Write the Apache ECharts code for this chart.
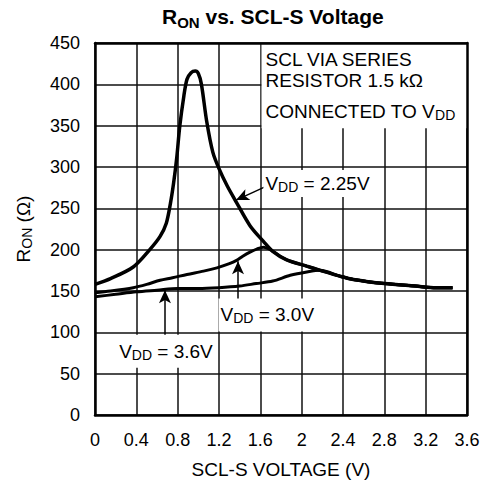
<!DOCTYPE html>
<html>
<head>
<meta charset="utf-8">
<script src="https://cdn.jsdelivr.net/npm/echarts@6/dist/echarts.min.js"></script>
<style>html,body{margin:0;padding:0;background:#fff}#c{width:487px;height:485px}</style>
</head>
<body>
<div id="c"></div>
<script>
// ---- data ----
const xTicks = ['0','0.4','0.8','1.2','1.6','2','2.4','2.8','3.2','3.6'];
const yTicks = ['0','50','100','150','200','250','300','350','400','450'];

const vdd225 = [[0,158],[0.15,165],[0.37,179],[0.53,200],[0.63,216],[0.69,232],[0.73,256],[0.76,280],[0.79,310],
  [0.82,349],[0.86,386],[0.89,406],[0.93,414],[0.97,416],[1.0,413],[1.03,400],[1.08,356],[1.14,318],[1.2,298],[1.28,277],
  [1.37,257],[1.5,229],[1.63,210],[1.72,198],[1.85,188],[2.05,180],[2.18,175],[2.37,168],[2.5,164],[2.8,159],
  [3.1,156],[3.3,154],[3.46,154]];
const vdd30 = [[0,148],[0.15,150],[0.37,154],[0.5,158],[0.63,163],[0.75,166],[0.89,170],[1.05,174],[1.18,178],
  [1.3,183],[1.37,187],[1.43,192],[1.5,197],[1.57,201],[1.63,203],[1.68,201],[1.72,198],[1.85,188],[2.05,180],
  [2.18,175],[2.37,168],[2.5,164],[2.8,159],[3.1,156],[3.3,154],[3.46,154]];
const vdd36 = [[0,143],[0.2,146],[0.4,149],[0.6,151],[0.8,153],[1.0,153],[1.2,154],[1.4,156],[1.56,159],
  [1.72,162],[1.89,169],[2.05,173],[2.18,175],[2.37,168],[2.5,164],[2.8,159],[3.1,156],[3.3,154],[3.46,154]];

// annotation anchors (data coordinates) and texts
const noteLines = ['{m|SCL VIA SERIES}', '{m|RESISTOR 1.5 kΩ}', '{m|CONNECTED TO V}{s|DD}'];
const noteAnchors = [[1.645,430],[1.645,404.6],[1.645,367.7]];
const noteBox = [[1.612,347],[3.6,450]];
const curveLabels = ['{m|V}{s|DD}{m| = 2.25V}', '{m|V}{s|DD}{m| = 3.0V}', '{m|V}{s|DD}{m| = 3.6V}'];
const curveLabelAnchors = [[1.625,280],[1.19,121],[0.2,77]];
const arrows = [[[1.645,276],[1.365,260]], [[1.384,137],[1.384,186]], [[0.677,93],[0.677,151]]];

const FONT = '"Liberation Sans", Arial, Helvetica, sans-serif';
const rich = {
  m: {fontSize: 19, fontFamily: FONT, color: '#000'},
  s: {fontSize: 14, fontFamily: FONT, color: '#000', padding: [7,0,0,0]}
};

const chart = echarts.init(document.getElementById('c'), null, {renderer: 'svg'});

function curve(name, data, w) {
  return {
    name, type: 'line', data, showSymbol: false, smooth: 0.3,
    lineStyle: {color: '#000', width: w}, itemStyle: {color: '#000'}, z: 5
  };
}

const pads = [[3,6,3,2],[6,3,6,2],[6,3,6,3]];
const annotSeries = {
  type: 'line', data: [], z: 3, silent: true,
  markArea: {
    silent: true,
    itemStyle: {color: '#fff'},
    data: [[{coord: noteBox[0]}, {coord: noteBox[1]}]]
  },
  markPoint: {
    silent: true,
    symbol: 'circle', symbolSize: 1,
    itemStyle: {color: 'rgba(0,0,0,0)'},
    data: noteLines.map((t, i) => ({
      coord: noteAnchors[i],
      label: {show: true, position: 'right', distance: 0, formatter: t, rich}
    })).concat(curveLabels.map((t, i) => ({
      coord: curveLabelAnchors[i],
      label: {show: true, position: 'right', distance: 0, formatter: t, rich,
              backgroundColor: '#fff', padding: pads[i]}
    })))
  },
  markLine: {
    silent: true,
    symbol: ['none', 'arrow'], symbolSize: [9, 13],
    label: {show: false},
    lineStyle: {color: '#000', width: 1.5, type: 'solid'},
    data: arrows.map(a => [{coord: a[0]}, {coord: a[1]}])
  }
};

chart.setOption({
  animation: false,
  backgroundColor: '#fff',
  title: {
    text: '{m|R}{s|ON}{m| vs. SCL-S Voltage}',
    left: 162, top: 3, padding: 0,
    textStyle: {
      rich: {
        m: {fontSize: 21, fontWeight: 'bold', fontFamily: FONT, color: '#000'},
        s: {fontSize: 15, fontWeight: 'bold', fontFamily: FONT, color: '#000', padding: [12,0,0,0]}
      }
    }
  },
  grid: {left: 95, right: 20, top: 43, bottom: 70, show: false},
  xAxis: [{
    type: 'value', min: 0, max: 3.6, interval: 0.4,
    name: 'SCL-S VOLTAGE (V)', nameLocation: 'middle', nameGap: 45,
    nameTextStyle: {fontSize: 19, fontFamily: FONT, color: '#000'},
    axisLine: {show: true, lineStyle: {color: '#000', width: 2.5}},
    axisTick: {show: false},
    axisLabel: {margin: 16, fontSize: 18, fontFamily: FONT, color: '#000',
                formatter: (v, i) => xTicks[i]},
    splitLine: {show: true, lineStyle: {color: '#111', width: 1.5}}
  }, {
    type: 'value', min: 0, max: 3.6, position: 'top', z: 10,
    axisLine: {show: true, onZero: false, lineStyle: {color: '#000', width: 2.5}},
    axisTick: {show: false}, axisLabel: {show: false}, splitLine: {show: false}
  }],
  yAxis: [{
    type: 'value', min: 0, max: 450, interval: 50,
    name: '{m|R}{s|ON}{m| (Ω)}', nameLocation: 'middle', nameGap: 61,
    nameTextStyle: {rich},
    axisLine: {show: true, lineStyle: {color: '#000', width: 2.5}},
    axisTick: {show: false},
    axisLabel: {margin: 15, fontSize: 18, fontFamily: FONT, color: '#000',
                formatter: (v, i) => yTicks[i]},
    splitLine: {show: true, lineStyle: {color: '#111', width: 1.5}}
  }, {
    type: 'value', min: 0, max: 450, position: 'right', z: 10,
    axisLine: {show: true, onZero: false, lineStyle: {color: '#000', width: 2.5}},
    axisTick: {show: false}, axisLabel: {show: false}, splitLine: {show: false}
  }],
  series: [
    annotSeries,
    curve('VDD = 3.6V', vdd36, 3),
    curve('VDD = 3.0V', vdd30, 3),
    curve('VDD = 2.25V', vdd225, 3.5)
  ]
});
</script>
</body>
</html>
